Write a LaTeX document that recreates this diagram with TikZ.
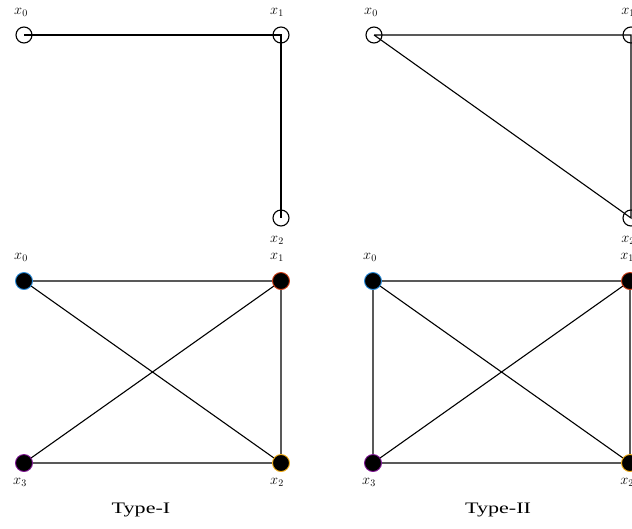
\documentclass[tikz,border=0pt]{standalone}
\usepackage{fontspec}
\newfontfamily\capfont{Liberation Serif}
\definecolor{cA}{RGB}{40,140,220}
\definecolor{cB}{RGB}{210,60,20}
\definecolor{cC}{RGB}{245,175,20}
\definecolor{cD}{RGB}{130,20,150}
\tikzset{
  hollownode/.style={circle,draw=black,line width=1.1pt,minimum size=16pt,inner sep=0pt},
  fillnode/.style={circle,fill=black,line width=0.9pt,minimum size=17pt,inner sep=0pt},
  conn/.style={line width=1.1pt},
  lab/.style={font=\fontsize{14.5}{17}\selectfont,inner sep=0pt},
  typecap/.style={font=\capfont\fontsize{16}{19}\selectfont,inner sep=0pt,xscale=1.38,transform shape}
}
\begin{document}
\begin{tikzpicture}[x=1pt,y=-1pt]
\useasboundingbox (0,0) rectangle (632,528);
\clip (0,0) rectangle (632,528);
% top-left
\coordinate (a0) at (24,35);
\coordinate (a1) at (281,35);
\coordinate (a2) at (281,218);
\draw[conn] (a0) -- (a1) -- (a2);
\node[hollownode] (na0) at (a0) {};
\node[hollownode] (na1) at (a1) {};
\node[hollownode] (na2) at (a2) {};
\node[lab] (la0) at (21,12) {$x_0$};
\node[lab] (la1) at (277,12) {$x_1$};
\node[lab] (la2) at (277,240) {$x_2$};
% top-right
\coordinate (b0) at (374,35);
\coordinate (b1) at (631,35);
\coordinate (b2) at (631,218);
\draw[conn] (b0) -- (b1) -- (b2) -- (b0);
\node[hollownode] (nb0) at (b0) {};
\node[hollownode] (nb1) at (b1) {};
\node[hollownode] (nb2) at (b2) {};
\node[lab] (lb0) at (371,12) {$x_0$};
\node[lab] (lb1) at (628,12) {$x_1$};
\node[lab] (lb2) at (628,240) {$x_2$};
% bottom-left
\coordinate (c0) at (24,281);
\coordinate (c1) at (281,281);
\coordinate (c2) at (281,463);
\coordinate (c3) at (24,463);
\draw[conn] (c0) -- (c1) -- (c2) -- (c3) -- (c1);
\draw[conn] (c0) -- (c2);
\node[fillnode,draw=cA] (nc0) at (c0) {};
\node[fillnode,draw=cB] (nc1) at (c1) {};
\node[fillnode,draw=cC] (nc2) at (c2) {};
\node[fillnode,draw=cD] (nc3) at (c3) {};
\node[lab] (lc0) at (21,257) {$x_0$};
\node[lab] (lc1) at (277,257) {$x_1$};
\node[lab] (lc2) at (277,482) {$x_2$};
\node[lab] (lc3) at (20,482) {$x_3$};
% bottom-right
\coordinate (d0) at (373,281);
\coordinate (d1) at (630,281);
\coordinate (d2) at (630,463);
\coordinate (d3) at (373,463);
\draw[conn] (d0) -- (d1) -- (d2) -- (d3) -- (d0) -- (d2);
\draw[conn] (d1) -- (d3);
\node[fillnode,draw=cA] (nd0) at (d0) {};
\node[fillnode,draw=cB] (nd1) at (d1) {};
\node[fillnode,draw=cC] (nd2) at (d2) {};
\node[fillnode,draw=cD] (nd3) at (d3) {};
\node[lab] (ld0) at (370,257) {$x_0$};
\node[lab] (ld1) at (627,257) {$x_1$};
\node[lab] (ld2) at (627,482) {$x_2$};
\node[lab] (ld3) at (369,482) {$x_3$};
% captions
\node[typecap] (t1) at (141,510) {Type-I};
\node[typecap] (t2) at (498,510) {Type-II};
\end{tikzpicture}
\end{document}
